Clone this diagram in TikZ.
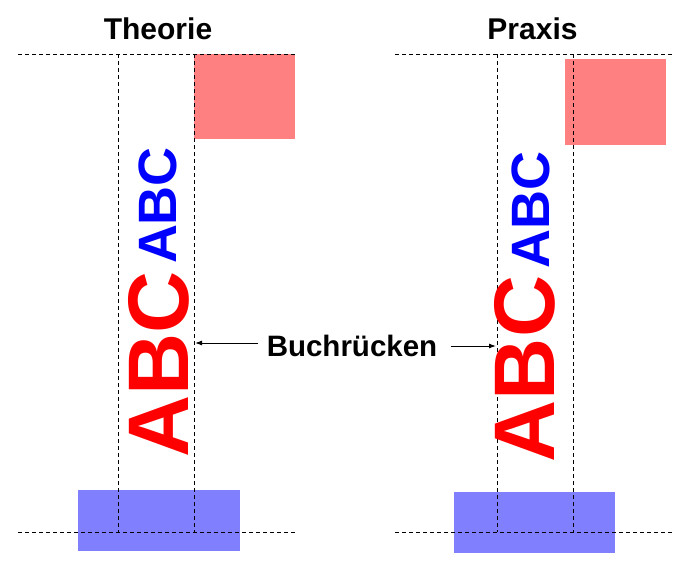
\documentclass[tikz,border=0pt]{standalone}
\usepackage{fontspec}
\setmainfont{Liberation Sans}
\usepackage{xcolor}
\usepackage{tikz}
\usetikzlibrary{positioning,arrows.meta}
\definecolor{lightred}{RGB}{255,128,128}
\definecolor{lightblue}{RGB}{128,128,255}
\tikzset{guide/.style={thin,black,line width=1pt,dash pattern=on 4pt off 3pt}}
\begin{document}
\begin{tikzpicture}[x=1pt,y=-1pt,transform shape,scale=1]
		\useasboundingbox (0,0) rectangle (691,570);
		% Theorie
		\fill[lightred] (194,54) rectangle (295,139);
		\fill[lightblue] (78,490) rectangle (240,551);
		\draw[guide] (18,54) -- (295,54);
		\draw[guide] (18,532) -- (296,532);
		\draw[guide] (118,54) -- (118,532);
		\draw[guide] (194,54) -- (194,532);
		\node[anchor=base,font=\fontsize{30}{30}\selectfont\bfseries] (theorie) at (158,39) {Theorie};
		\node[inner sep=0pt,rotate=90,red,font=\fontsize{86}{86}\selectfont\bfseries] (bigL) at (159,364.5) {ABC};
		\node[inner sep=0pt,rotate=90,blue,font=\fontsize{54}{54}\selectfont\bfseries] (smallL) at (158,205.5) {ABC};
		% Praxis
		\fill[lightred] (565,59) rectangle (666,145);
		\fill[lightblue] (454,492) rectangle (615,553);
		\draw[guide] (395,54) -- (674,54);
		\draw[guide] (395,532) -- (674,532);
		\draw[guide] (497,54) -- (497,532);
		\draw[guide] (573,54) -- (573,532);
		\node[anchor=base,font=\fontsize{30}{30}\selectfont\bfseries] (praxis) at (532.5,39) {Praxis};
		\node[inner sep=0pt,rotate=90,red,font=\fontsize{86}{86}\selectfont\bfseries] (bigR) at (525,369) {ABC};
		\node[inner sep=0pt,rotate=90,blue,font=\fontsize{54}{54}\selectfont\bfseries] (smallR) at (530.5,210) {ABC};
		% Buchruecken
		\node[anchor=base,font=\fontsize{29.5}{29.5}\selectfont\bfseries] (spine) at (352,356) {Buchrücken};
		\coordinate (spineL) at (195,343);
		\coordinate (spineR) at (496,346);
		\draw[-{Latex[length=7pt,width=5pt]},line width=1pt] (spine.west |- spineL) ++(-5,0) -- (spineL);
		\draw[-{Latex[length=7pt,width=5pt]},line width=1pt] (spine.east |- spineR) ++(10,0) -- (spineR);
	\end{tikzpicture}
\end{document}
